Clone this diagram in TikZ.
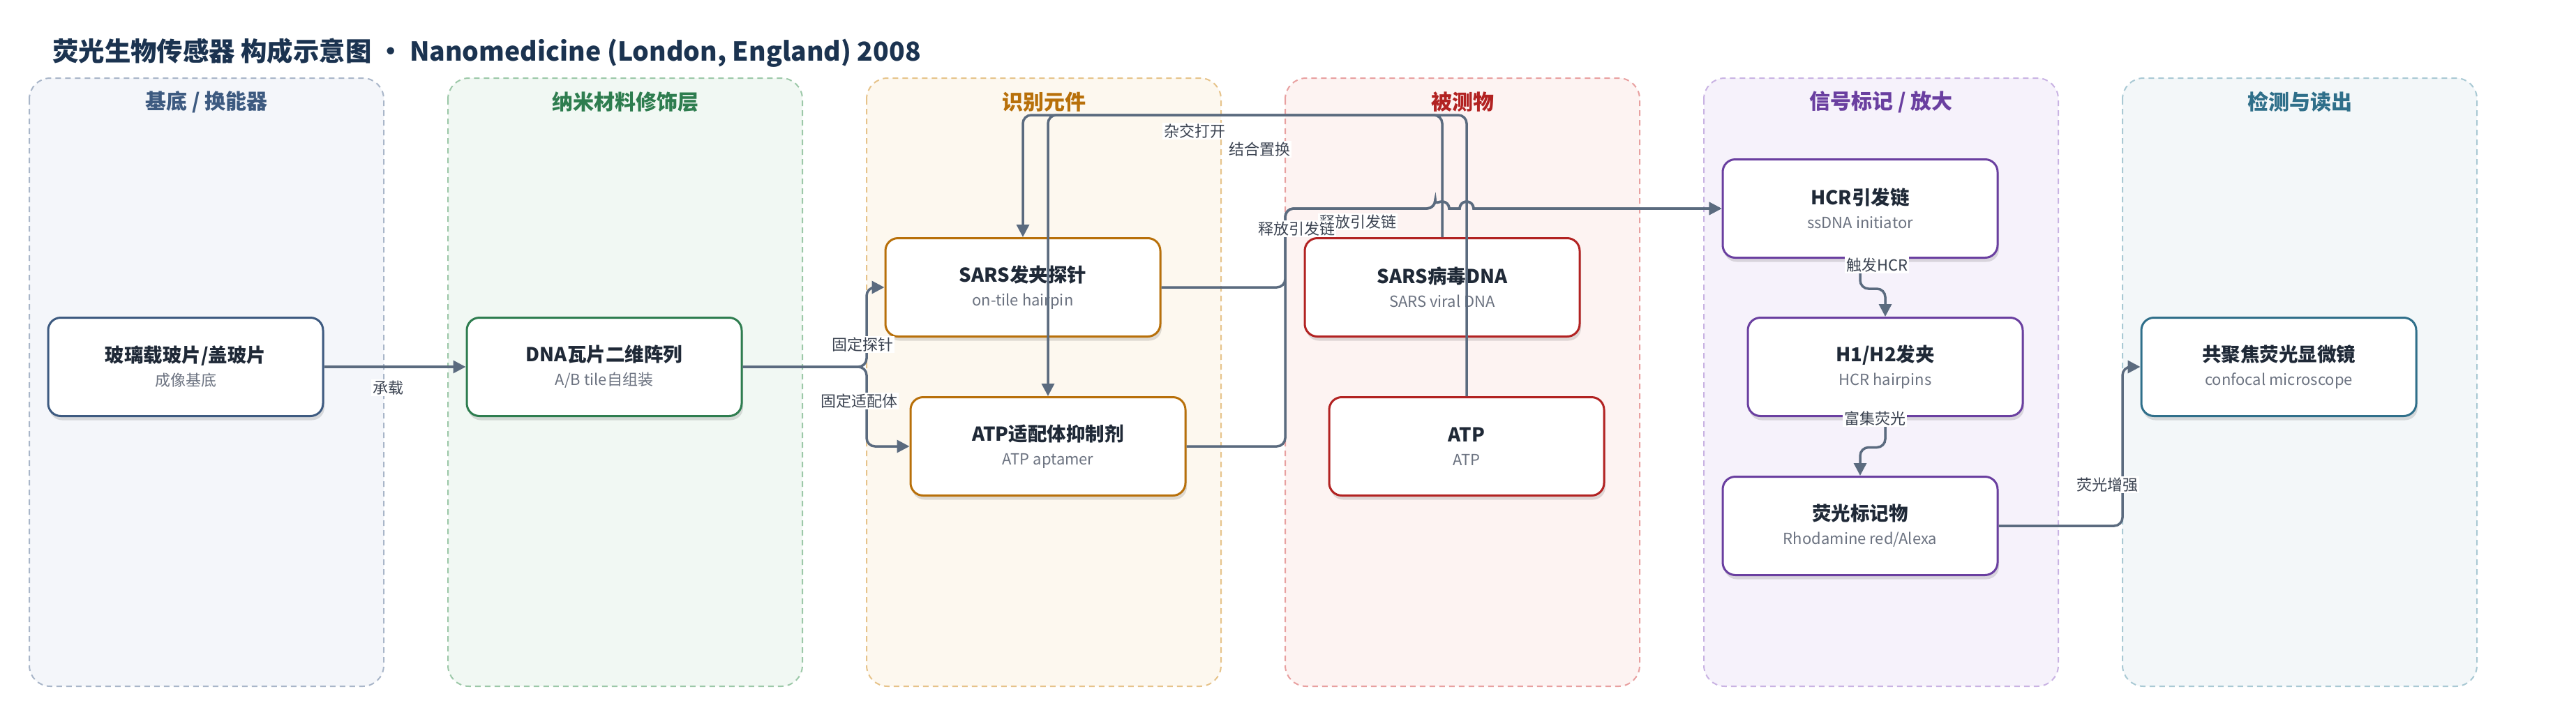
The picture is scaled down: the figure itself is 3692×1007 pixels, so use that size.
\documentclass[tikz,border=0pt]{standalone}
\usepackage{fontspec}
\setmainfont{Noto Sans CJK SC}
\usetikzlibrary{arrows.meta,shadows}

\definecolor{ink}{HTML}{1B3350}
\definecolor{ttl}{HTML}{1F2937}
\definecolor{sub}{HTML}{6B7280}
\definecolor{edge}{HTML}{5B6B7F}
\definecolor{lbltext}{HTML}{3B4351}
% lane borders, fills, titles
\definecolor{bdA}{HTML}{A9B6C9}\definecolor{flA}{HTML}{F4F6FA}\definecolor{txA}{HTML}{3D5A80}
\definecolor{bdB}{HTML}{9CC8A8}\definecolor{flB}{HTML}{F1F8F3}\definecolor{txB}{HTML}{2E7D4F}
\definecolor{bdC}{HTML}{E6C38A}\definecolor{flC}{HTML}{FDF8EF}\definecolor{txC}{HTML}{B8700A}
\definecolor{bdD}{HTML}{E8A0A0}\definecolor{flD}{HTML}{FDF3F2}\definecolor{txD}{HTML}{B22222}
\definecolor{bdE}{HTML}{C9B3E3}\definecolor{flE}{HTML}{F6F2FB}\definecolor{txE}{HTML}{6A3FA0}
\definecolor{bdF}{HTML}{A9C9D4}\definecolor{flF}{HTML}{F3F7F9}\definecolor{txF}{HTML}{2F6F8A}

\newcommand{\cardtext}[2]{{\bfseries\color{ttl}#1}\\{\fontsize{22}{26}\selectfont\color{sub}#2}}

\begin{document}
\begin{tikzpicture}[x=1pt,y=-1pt,
  box/.style={draw=#1, line width=3pt, fill=white, rounded corners=18pt,
    minimum width=394pt, minimum height=141pt, align=center, inner sep=0pt,
    font=\fontsize{27.5}{34}\selectfont,
    drop shadow={shadow xshift=2pt, shadow yshift=-6pt, opacity=.12, fill=black}},
  lane/.style 2 args={draw=#1, fill=#2, dash pattern=on 8pt off 6pt,
    line width=2pt, rounded corners=30pt},
  lanetitle/.style={font=\fontsize{30}{36}\selectfont\bfseries, text=#1},
  flow/.style={draw=edge, line width=3.5pt, rounded corners=12pt,
    -{Triangle[length=18pt,width=18pt]}},
  lbl/.style={fill=white, inner sep=2pt, text=lbltext, font=\fontsize{22}{26}\selectfont}]
  \useasboundingbox (0,0) rectangle (3692,1007);

  \node[anchor=west, inner sep=0pt, text=ink, font=\fontsize{37.4}{44}\selectfont\bfseries]
    (title) at (75,76) {荧光生物传感器 构成示意图 · Nanomedicine (London, England) 2008};

  \draw[lane={bdA}{flA}] (42,112) rectangle (550,984);
  \draw[lane={bdB}{flB}] (642,112) rectangle (1150,984);
  \draw[lane={bdC}{flC}] (1242,112) rectangle (1750,984);
  \draw[lane={bdD}{flD}] (1842,112) rectangle (2350,984);
  \draw[lane={bdE}{flE}] (2442,112) rectangle (2950,984);
  \draw[lane={bdF}{flF}] (3042,112) rectangle (3550,984);

  \node[lanetitle=txA] (lane1) at (296,146) {基底 / 换能器};
  \node[lanetitle=txB] (lane2) at (896,146) {纳米材料修饰层};
  \node[lanetitle=txC] (lane3) at (1496,146) {识别元件};
  \node[lanetitle=txD] (lane4) at (2096,146) {被测物};
  \node[lanetitle=txE] (lane5) at (2696,146) {信号标记 / 放大};
  \node[lanetitle=txF] (lane6) at (3296,146) {检测与读出};

  \node[box=txA] (glass) at (266,526) {\cardtext{玻璃载玻片/盖玻片}{成像基底}};
  \node[box=txB] (dna) at (866,526) {\cardtext{DNA瓦片二维阵列}{A/B tile自组装}};
  \node[box=txC] (hairpin) at (1466,412) {\cardtext{SARS发夹探针}{on-tile hairpin}};
  \node[box=txC] (aptamer) at (1502,640) {\cardtext{ATP适配体抑制剂}{ATP aptamer}};
  \node[box=txD] (viral) at (2067,412) {\cardtext{SARS病毒DNA}{SARS viral DNA}};
  \node[box=txD] (atp) at (2102,640) {\cardtext{ATP}{ATP}};
  \node[box=txE] (hcr) at (2666,299) {\cardtext{HCR引发链}{ssDNA initiator}};
  \node[box=txE] (hairpins) at (2702,526) {\cardtext{H1/H2发夹}{HCR hairpins}};
  \node[box=txE] (dye) at (2666,754) {\cardtext{荧光标记物}{Rhodamine red/Alexa}};
  \node[box=txF] (scope) at (3266,526) {\cardtext{共聚焦荧光显微镜}{confocal microscope}};

  \coordinate (fork) at (1242,526);
  \coordinate (bus) at (0,165);
  \coordinate (rail) at (1842,299);
  \coordinate (gate) at (3042,526);

  \draw[flow] (glass.east) -- (dna.west);
  \draw[flow] (dna.east) -- (fork) |- (hairpin.west);
  \draw[flow] (dna.east) -- (fork) |- (aptamer.west);
  \draw[flow] (viral.north) -- (viral.north |- bus) -| (hairpin.north);
  \draw[flow] (atp.north) -- (atp.north |- bus) -| (aptamer.north);
  \draw[flow] (hairpin.east) -- (hairpin.east -| rail) -- (rail) -- (2057,299) [sharp corners]
    arc[start angle=180, end angle=0, radius=10pt] -- (2092,299)
    arc[start angle=180, end angle=0, radius=10pt] -- (hcr.west);
  \draw[flow] (aptamer.east) -- (aptamer.east -| rail) -- (rail) -- (2057,299) [sharp corners]
    arc[start angle=180, end angle=0, radius=10pt] -- (2092,299)
    arc[start angle=180, end angle=0, radius=10pt] -- (hcr.west);
  \draw[flow] (hcr.south) -- ++(0,43) -| (hairpins.north);
  \draw[flow] (hairpins.south) -- ++(0,43.5) -| (dye.north);
  \draw[flow] (dye.east) -- (dye.east -| gate) -- (gate) -- (scope.west);

  \node[lbl] (carry) at (556,556) {承载};
  \node[lbl] (fixprobe) at (1236,494) {固定探针};
  \node[lbl] (fixapt) at (1231,575) {固定适配体};
  \node[lbl] (hybrid) at (1712,188) {杂交打开};
  \node[lbl] (displace) at (1805,214) {结合置换};
  \node[lbl] (release2) at (1946,318) {释放引发链};
  \node[lbl] (release1) at (1858,328) {释放引发链};
  \node[lbl] (trigger) at (2690,380) {触发HCR};
  \node[lbl] (enrich) at (2687,600) {富集荧光};
  \node[lbl] (boost) at (3020,695) {荧光增强};
\end{tikzpicture}
\end{document}
